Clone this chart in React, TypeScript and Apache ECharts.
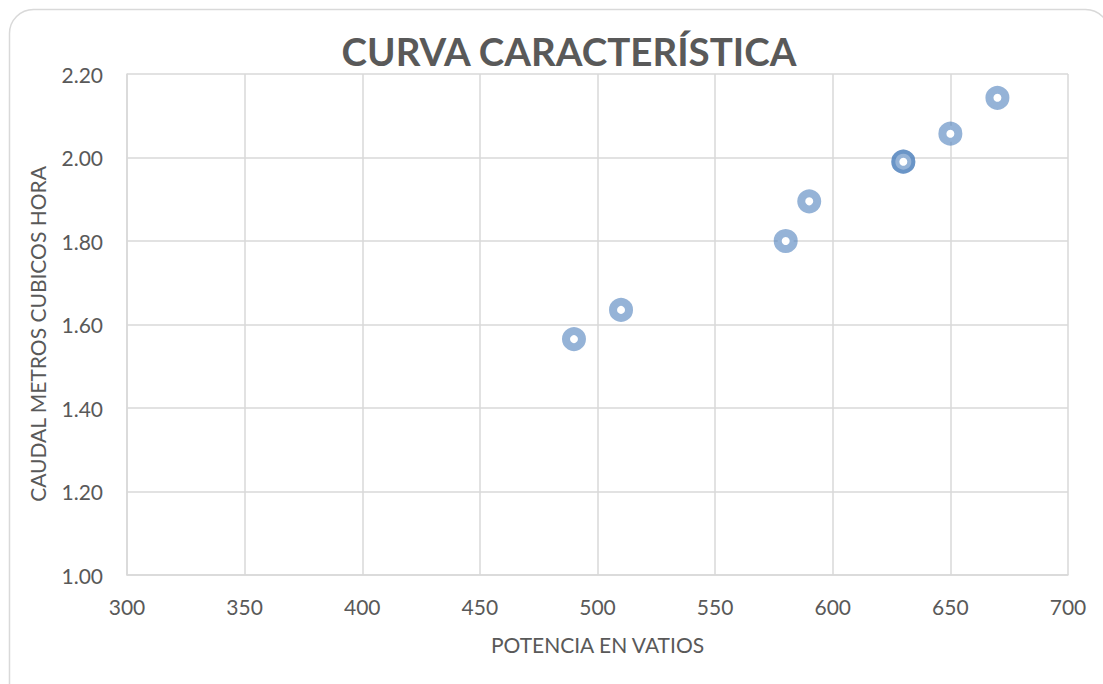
import React, { useEffect, useRef } from "react";
import * as echarts from "echarts";

const potencia = [490, 510, 580, 590, 630, 630, 650, 670];
const caudal = [1.565, 1.635, 1.8, 1.895, 1.99, 1.99, 2.057, 2.143];
const xTicks = { min: 300, max: 700, interval: 50 };
const yTicks = { min: 1.0, max: 2.2, interval: 0.2 };
const titleText = "CURVA CARACTERÍSTICA";
const xName = "POTENCIA EN VATIOS";
const yName = "CAUDAL METROS CUBICOS HORA";

export default function App() {
  const ref = useRef<HTMLDivElement>(null);
  useEffect(() => {
    document.body.style.margin = "0";
    const chart = echarts.init(ref.current!, null, { renderer: "svg" });
    const font = "Lato, 'Open Sans', sans-serif";
    const grey = "#595959";
    chart.setOption({
      animation: false,
      backgroundColor: "#ffffff",
      textStyle: { fontFamily: font },
      graphic: [
        {
          type: "rect",
          shape: { x: 9.5, y: 9.5, width: 1100, height: 700, r: 24 },
          style: { fill: "none", stroke: "#d9d9d9", lineWidth: 1.5 },
          silent: true,
          z: -1,
        },
        {
          type: "text",
          x: 37,
          y: 334,
          rotation: Math.PI / 2,
          style: {
            text: yName,
            fontFamily: font,
            fontSize: 21,
            fill: grey,
            align: "center",
            verticalAlign: "middle",
          },
          silent: true,
        },
      ],
      title: {
        text: titleText,
        left: 564,
        top: 26,
        textAlign: "center",
        textStyle: { fontFamily: font, fontSize: 38.5, fontWeight: "bold", color: grey },
      },
      grid: { left: 127, right: 35, top: 74, bottom: 109 },
      xAxis: {
        type: "value",
        min: xTicks.min,
        max: xTicks.max,
        interval: xTicks.interval,
        name: xName,
        nameLocation: "middle",
        nameGap: 59,
        nameTextStyle: { fontFamily: font, fontSize: 21, color: grey },
        axisLine: { show: true, lineStyle: { color: "#d9d9d9", width: 1.5 } },
        axisTick: { show: false },
        axisLabel: { fontFamily: font, fontSize: 21, color: grey, margin: 21 },
        splitLine: { show: true, lineStyle: { color: "#d9d9d9", width: 1.5 } },
      },
      yAxis: {
        type: "value",
        min: yTicks.min,
        max: yTicks.max,
        interval: yTicks.interval,
        axisLine: { show: true, lineStyle: { color: "#d9d9d9", width: 1.5 } },
        axisTick: { show: false },
        axisLabel: {
          fontFamily: font,
          fontSize: 21,
          color: grey,
          margin: 24,
          formatter: (v: number) => v.toFixed(2),
        },
        splitLine: { show: true, lineStyle: { color: "#d9d9d9", width: 1.5 } },
      },
      series: [
        {
          type: "scatter",
          data: potencia.map((x, i) => [x, caudal[i]]),
          symbol: "circle",
          symbolSize: 16,
          itemStyle: {
            color: "#ffffff",
            borderColor: "rgba(79,129,189,0.6)",
            borderWidth: 8,
            opacity: 1,
          },
        },
      ],
    });
    return () => chart.dispose();
  }, []);
  return <div ref={ref} style={{ width: 1103, height: 684 }} />;
}
